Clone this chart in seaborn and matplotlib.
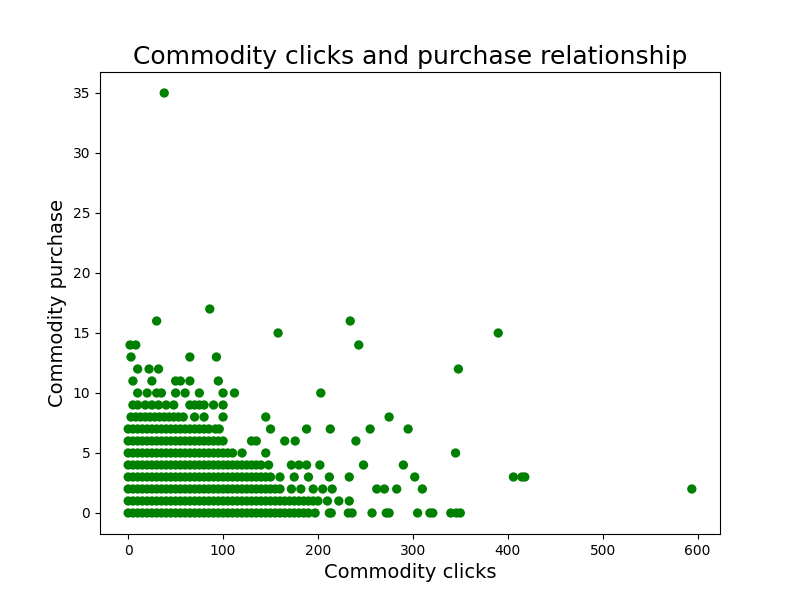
import matplotlib
matplotlib.use("Agg")
import matplotlib.pyplot as plt
import seaborn as sns
import pandas as pd

# clicks per purchase count
clicks_0 = [0, 5, 10, 15, 20, 25, 30, 35, 40, 45, 50, 55, 60, 65, 70, 75, 80, 85, 90, 95,
            100, 105, 110, 115, 120, 125, 130, 135, 140, 145, 150, 155, 160, 165, 170, 175,
            180, 185, 190, 197, 212, 214, 232, 236, 257, 272, 275, 305, 318, 321, 340, 346, 350]
clicks_1 = [0, 5, 10, 15, 20, 25, 30, 35, 40, 45, 50, 55, 60, 65, 70, 75, 80, 85, 90, 95,
            100, 105, 110, 115, 120, 125, 130, 135, 140, 145, 150, 155, 160, 165, 170, 175,
            180, 185, 190, 195, 200, 210, 222, 233]
clicks_2 = [0, 5, 10, 15, 20, 25, 30, 35, 40, 45, 50, 55, 60, 65, 70, 75, 80, 85, 90, 95,
            100, 105, 110, 115, 120, 125, 130, 135, 140, 145, 150, 155, 160, 172, 182, 195,
            205, 215, 262, 270, 283, 310, 594]
clicks_3 = [0, 5, 10, 15, 20, 25, 30, 35, 40, 45, 50, 55, 60, 65, 70, 75, 80, 85, 90, 95,
            100, 105, 110, 115, 120, 125, 130, 135, 140, 145, 150, 160, 175, 190, 212, 233,
            302, 406, 415, 418]
clicks_4 = [0, 5, 10, 15, 20, 25, 30, 35, 40, 45, 50, 55, 60, 65, 70, 75, 80, 85, 90, 95,
            100, 105, 110, 115, 120, 125, 130, 135, 140, 148, 172, 180, 188, 202, 248, 290]
clicks_5 = [0, 5, 10, 15, 20, 25, 30, 35, 40, 45, 50, 55, 60, 65, 70, 75, 80, 85, 90, 95,
            100, 105, 110, 120, 145, 345]
clicks_6 = [0, 5, 10, 15, 20, 25, 30, 35, 40, 45, 50, 55, 60, 65, 70, 75, 80, 85, 90, 95,
            100, 130, 135, 165, 176, 240]
clicks_7 = [0, 5, 10, 15, 20, 25, 30, 35, 40, 45, 50, 55, 60, 65, 70, 75, 80, 85, 92, 96,
            150, 188, 213, 255, 295]
clicks_8 = [3, 8, 13, 18, 23, 28, 33, 38, 43, 48, 53, 58, 70, 80, 100, 145, 275]
clicks_9 = [5, 10, 18, 25, 32, 40, 48, 65, 70, 75, 80, 90, 100]
clicks_10 = [10, 20, 30, 35, 50, 60, 75, 100, 112, 203]
clicks_11 = [5, 25, 50, 55, 65, 95]
clicks_12 = [10, 22, 32, 348]
clicks_13 = [3, 65, 93]
clicks_14 = [2, 8, 243]
clicks_15 = [158, 390]
clicks_16 = [30, 234]
clicks_17 = [86]
clicks_35 = [38]

rows = {0: clicks_0, 1: clicks_1, 2: clicks_2, 3: clicks_3, 4: clicks_4, 5: clicks_5,
        6: clicks_6, 7: clicks_7, 8: clicks_8, 9: clicks_9, 10: clicks_10, 11: clicks_11,
        12: clicks_12, 13: clicks_13, 14: clicks_14, 15: clicks_15, 16: clicks_16,
        17: clicks_17, 35: clicks_35}

df = pd.DataFrame([(x, y) for y, xs in rows.items() for x in xs],
                  columns=["clicks", "purchase"])

fig, ax = plt.subplots(figsize=(8, 6), dpi=100)
sns.scatterplot(data=df, x="clicks", y="purchase", color="green", s=45,
                edgecolor="none", ax=ax)
ax.set_title("Commodity clicks and purchase relationship", fontsize=18)
ax.set_xlabel("Commodity clicks", fontsize=14)
ax.set_ylabel("Commodity purchase", fontsize=14)
ax.set_xticks([0, 100, 200, 300, 400, 500, 600])
ax.set_yticks([0, 5, 10, 15, 20, 25, 30, 35])
fig.savefig("out.png")
